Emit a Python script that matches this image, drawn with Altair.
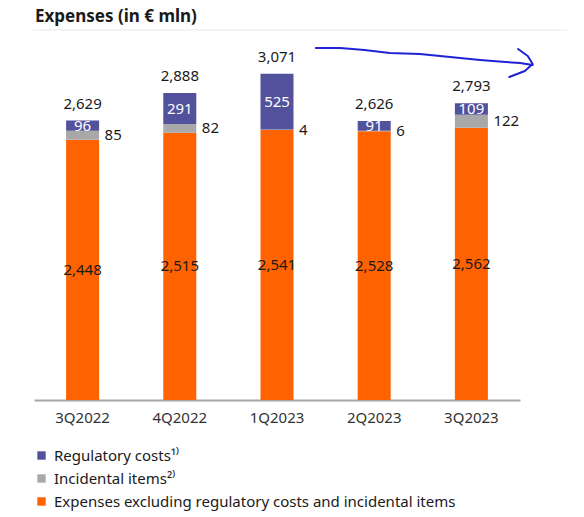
import altair as alt
import pandas as pd

# Quarterly expenses, € mln
quarters = ["3Q2022", "4Q2022", "1Q2023", "2Q2023", "3Q2023"]
regulatory = [96, 291, 525, 91, 109]
incidental = [85, 82, 4, 6, 122]
underlying = [2448, 2515, 2541, 2528, 2562]
totals = [2629, 2888, 3071, 2626, 2793]

series_names = [
    "Regulatory costs\u00b9\u207e",
    "Incidental items\u00b2\u207e",
    "Expenses excluding regulatory costs and incidental items",
]
series_colors = ["#52519B", "#A8A8A8", "#FF6200"]

# Hand-drawn trend arrow, in (quarter index, € mln)
arrow_shaft_x = [2.40, 2.65, 2.90, 3.16, 3.47, 3.78, 4.09, 4.35, 4.50, 4.63]
arrow_shaft_y = [3312, 3312, 3293, 3265, 3255, 3227, 3199, 3180, 3171, 3152]
arrow_head_x = [4.48, 4.58, 4.63, 4.55, 4.39]
arrow_head_y = [3302, 3236, 3161, 3095, 3039]

FONT = "Noto Sans"
INK = "#1A1A1A"

# long table for the stacked bars (stack 0 = bottom)
rows = []
for i, q in enumerate(quarters):
    rows.append({"quarter": q, "series": series_names[2], "value": underlying[i], "stack": 0})
    rows.append({"quarter": q, "series": series_names[1], "value": incidental[i], "stack": 1})
    rows.append({"quarter": q, "series": series_names[0], "value": regulatory[i], "stack": 2})
long = pd.DataFrame(rows)

wide = pd.DataFrame({
    "quarter": quarters,
    "total": totals,
    "reg": regulatory,
    "inc": incidental,
    "und": underlying,
})
wide["reg_mid"] = wide["und"] + wide["inc"] + wide["reg"] / 2
wide["inc_mid"] = wide["und"] + wide["inc"] / 2
wide["und_mid"] = wide["und"] / 2
wide["top"] = wide["und"] + wide["inc"] + wide["reg"]

arrow = pd.DataFrame({
    "ax": arrow_shaft_x + arrow_head_x,
    "ay": arrow_shaft_y + arrow_head_y,
    "part": ["shaft"] * len(arrow_shaft_x) + ["head"] * len(arrow_head_x),
    "seq": list(range(len(arrow_shaft_x))) + list(range(len(arrow_head_x))),
})

y_scale = alt.Scale(domain=[0, 3500], nice=False, zero=True)
x_band = alt.X(
    "quarter:N",
    sort=quarters,
    scale=alt.Scale(paddingInner=0, paddingOuter=0),
    axis=alt.Axis(
        title=None, labelAngle=0, ticks=False, grid=False,
        domainColor="#A6A6A6", domainWidth=2,
        labelFont=FONT, labelFontSize=15, labelColor="#333333", labelPadding=10,
    ),
)

bars = alt.Chart(long).mark_bar(size=33).encode(
    x=x_band,
    y=alt.Y("value:Q", stack="zero", scale=y_scale, axis=None),
    color=alt.Color(
        "series:N",
        scale=alt.Scale(domain=series_names, range=series_colors),
        legend=alt.Legend(
            title=None, orient="none", legendX=0, legendY=420,
            direction="vertical", symbolType="square", symbolSize=70,
            symbolStrokeWidth=0, labelFont=FONT, labelFontSize=15,
            labelColor=INK, labelOffset=5, rowPadding=7, padding=0,
            labelLimit=500,
        ),
    ),
    order=alt.Order("stack:Q"),
)

base = alt.Chart(wide).encode(x=alt.X("quarter:N", sort=quarters))

total_labels = base.mark_text(
    font=FONT, fontSize=15, color=INK, baseline="alphabetic", dy=-12
).encode(y=alt.Y("top:Q", scale=y_scale), text=alt.Text("total:Q", format=","))

reg_labels = base.mark_text(
    font=FONT, fontSize=15, color="white", baseline="middle"
).encode(y=alt.Y("reg_mid:Q", scale=y_scale), text=alt.Text("reg:Q", format=","))

inc_labels = base.mark_text(
    font=FONT, fontSize=15, color=INK, baseline="middle", align="left", dx=22
).encode(y=alt.Y("inc_mid:Q", scale=y_scale), text=alt.Text("inc:Q", format=","))

und_labels = base.mark_text(
    font=FONT, fontSize=15, color=INK, baseline="middle"
).encode(y=alt.Y("und_mid:Q", scale=y_scale), text=alt.Text("und:Q", format=","))

# bars and their value labels share one band scale
bar_panel = alt.layer(bars, total_labels, reg_labels, inc_labels, und_labels)

one = pd.DataFrame({"k": [0]})
title_rule = alt.Chart(one).mark_rule(color="#E8E8E8", strokeWidth=1).encode(
    x=alt.value(-1), x2=alt.value(533), y=alt.value(2)
)
title_text = alt.Chart(one).mark_text(
    text="Expenses (in \u20ac mln)", font=FONT, fontSize=17, fontWeight="bold",
    color=INK, align="left", baseline="alphabetic",
).encode(x=alt.value(1), y=alt.value(-6))

arrow_line = alt.Chart(arrow).mark_line(
    color="#1F22D6", strokeWidth=2, strokeCap="round", strokeJoin="round", clip=False
).encode(
    x=alt.X("ax:Q", scale=alt.Scale(domain=[-0.5, 4.5], nice=False, zero=False), axis=None),
    y=alt.Y("ay:Q", scale=y_scale),
    detail="part:N",
    order=alt.Order("seq:Q"),
)

chart = (
    alt.layer(bar_panel, title_rule, title_text, arrow_line)
    .resolve_scale(x="independent")
    .properties(
        width=486,
        height=372,
        autosize=alt.AutoSizeParams(type="none"),
        padding={"left": 34, "top": 28, "right": 64, "bottom": 117},
    )
    .configure(background="white")
    .configure_view(stroke=None)
    .configure_axis(grid=False)
)

chart.save("out.html", embed_options={"renderer": "svg", "actions": False})
